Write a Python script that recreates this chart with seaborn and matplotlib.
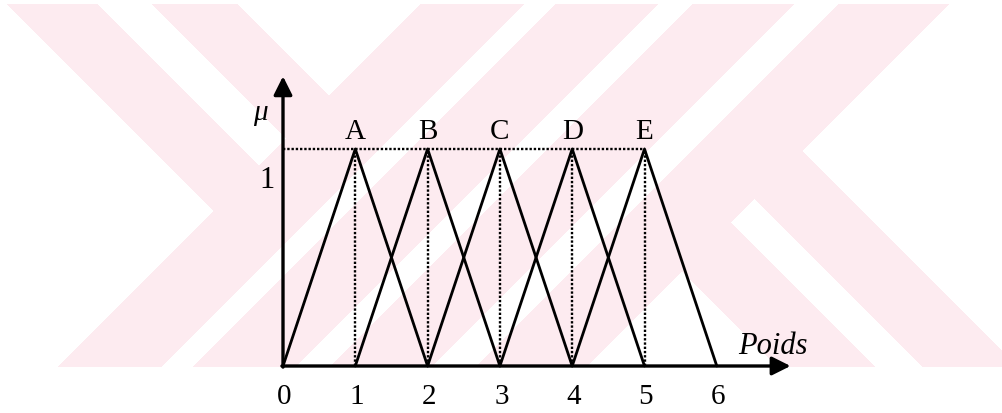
import numpy as np
import pandas as pd
import seaborn as sns
import matplotlib.pyplot as plt

sns.set_style('white')
plt.rcParams['font.family'] = ['Liberation Serif', 'DejaVu Serif']
plt.rcParams['text.color'] = 'black'

# données : ensembles flous triangulaires
labels = ['A', 'B', 'C', 'D', 'E']
centres = [1, 2, 3, 4, 5]
demi_base = 1.0
hauteur = 1.0
graduations_x = [0, 1, 2, 3, 4, 5, 6]

rows = []
for lab, c in zip(labels, centres):
    for x, mu in [(c - demi_base, 0.0), (c, hauteur), (c + demi_base, 0.0)]:
        rows.append({'ensemble': lab, 'poids': x, 'mu': mu})
df = pd.DataFrame(rows)

W, H = 1003, 414
fig = plt.figure(figsize=(W / 100, H / 100), dpi=100)

# filigrane rose en arriere-plan (pixels)
bg = fig.add_axes([0, 0, 1, 1])
yy, xx = np.mgrid[0:H, 0:W]
u = xx - yy
v = xx + yy
obliques = (((v >= 425) & (v <= 528)) | ((v >= 560) & (v <= 662)) |
            ((v >= 697) & (v <= 798)) | ((v >= 843) & (v <= 953)))
bras_g = (((u >= 2) & (u <= 92)) | ((u >= 147) & (u <= 232))) & (v <= 528)
bras_d = (((u >= 410) & (u <= 507)) | ((u >= 555) & (u <= 650))) & (v >= 843)
rose = (yy >= 5) & (yy <= 367) & (obliques | bras_g | bras_d)
img = np.ones((H, W, 3))
img[rose] = np.array([253, 235, 240]) / 255
bg.imshow(img, aspect='auto', interpolation='nearest')
bg.axis('off')

# axes du graphique, en coordonnees de donnees
ax = fig.add_axes([0, 0, 1, 1])
ax.patch.set_alpha(0)
ax.set_xlim(-283 / 72.3, (W - 283) / 72.3)
ax.set_ylim((367 - H) / 217, 367 / 217)
ax.axis('off')

sns.lineplot(data=df, x='poids', y='mu', units='ensemble', estimator=None,
             sort=False, color='black', linewidth=2.0, ax=ax, legend=False)

pointille = (0, (1, 0.8))
ax.vlines(centres, 0, hauteur, colors='black', linestyles=pointille, linewidth=1.7)
ax.hlines(hauteur, 0, max(centres), colors='black', linestyles=pointille, linewidth=1.7)

# axes flechés
fleche = dict(arrowstyle='-|>', mutation_scale=28, color='black', lw=2.4,
              shrinkA=0, shrinkB=0)
ax.annotate('', xy=(0, 1.335), xytext=(0, -0.005), arrowprops=fleche)
ax.annotate('', xy=(7.02, 0), xytext=(-0.015, 0), arrowprops=fleche)

for lab, c in zip(labels, centres):
    ax.text(c, hauteur + 0.085, lab, ha='center', va='center', fontsize=21)

for g in graduations_x:
    ax.text(g + 0.02, -0.14, str(g), ha='center', va='center', fontsize=21)

ax.text(-0.22, 0.86, '1', ha='center', va='center', fontsize=22)
ax.text(-0.32, 1.17, 'μ', ha='center', va='center', fontsize=21, style='italic')
ax.text(6.78, 0.095, 'Poids', ha='center', va='center', fontsize=22, style='italic')

fig.savefig('out.png', dpi=100)
